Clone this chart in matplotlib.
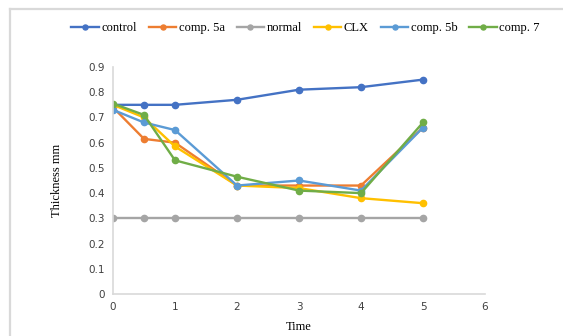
import matplotlib.pyplot as plt
from matplotlib.lines import Line2D

time = [0, 0.5, 1, 2, 3, 4, 5]
control = [0.75, 0.75, 0.75, 0.77, 0.81, 0.82, 0.85]
comp_5a = [0.74, 0.615, 0.60, 0.43, 0.43, 0.43, 0.66]
normal = [0.30, 0.30, 0.30, 0.30, 0.30, 0.30, 0.30]
clx = [0.75, 0.70, 0.585, 0.43, 0.42, 0.38, 0.36]
comp_5b = [0.73, 0.68, 0.65, 0.43, 0.45, 0.41, 0.66]
comp_7 = [0.755, 0.71, 0.53, 0.465, 0.41, 0.40, 0.68]

series = [
    ('control', control, '#4472C4'),
    ('comp. 5a', comp_5a, '#ED7D31'),
    ('normal', normal, '#A5A5A5'),
    ('CLX', clx, '#FFC000'),
    ('comp. 5b', comp_5b, '#5B9BD5'),
    ('comp. 7', comp_7, '#70AD47'),
]

fig = plt.figure(figsize=(5.63, 3.36), dpi=100)
ax = fig.add_axes([0.2007, 0.125, 0.6608, 0.6756])

for name, vals, col in series:
    ax.plot(time, vals, color=col, lw=1.7, marker='o', ms=4.5, label=name)

ax.set_xlim(0, 6)
ax.set_ylim(0, 0.9)
ax.set_xticks(range(7))
ax.set_yticks([i / 10 for i in range(10)])
ax.set_yticklabels(['0'] + ['0.%d' % i for i in range(1, 10)])
ax.tick_params(length=0, labelsize=7.5, colors='#404040', pad=6)
for s in ['top', 'right']:
    ax.spines[s].set_visible(False)
for s in ['left', 'bottom']:
    ax.spines[s].set_color('#D9D9D9')
    ax.spines[s].set_linewidth(1.2)

ax.set_xlabel('Time', family='Liberation Serif', fontsize=9, labelpad=6)
ax.set_ylabel('Thickness mm', family='Liberation Serif', fontsize=9, labelpad=18)

handles, labels = ax.get_legend_handles_labels()
fig.legend(handles, labels, loc='center', bbox_to_anchor=(0.543, 0.917), ncol=6,
           frameon=False, prop={'family': 'Liberation Serif', 'size': 9},
           handlelength=2.2, handletextpad=0.2, columnspacing=0.95, markerscale=0.8)

# chart frame (top and left edges visible)
fig.add_artist(Line2D([0.017, 1.0], [0.974, 0.974], color='#D9D9D9', lw=1.6))
fig.add_artist(Line2D([0.017, 0.017], [0.0, 0.974], color='#D9D9D9', lw=1.6))

fig.savefig('out.png', dpi=100)
